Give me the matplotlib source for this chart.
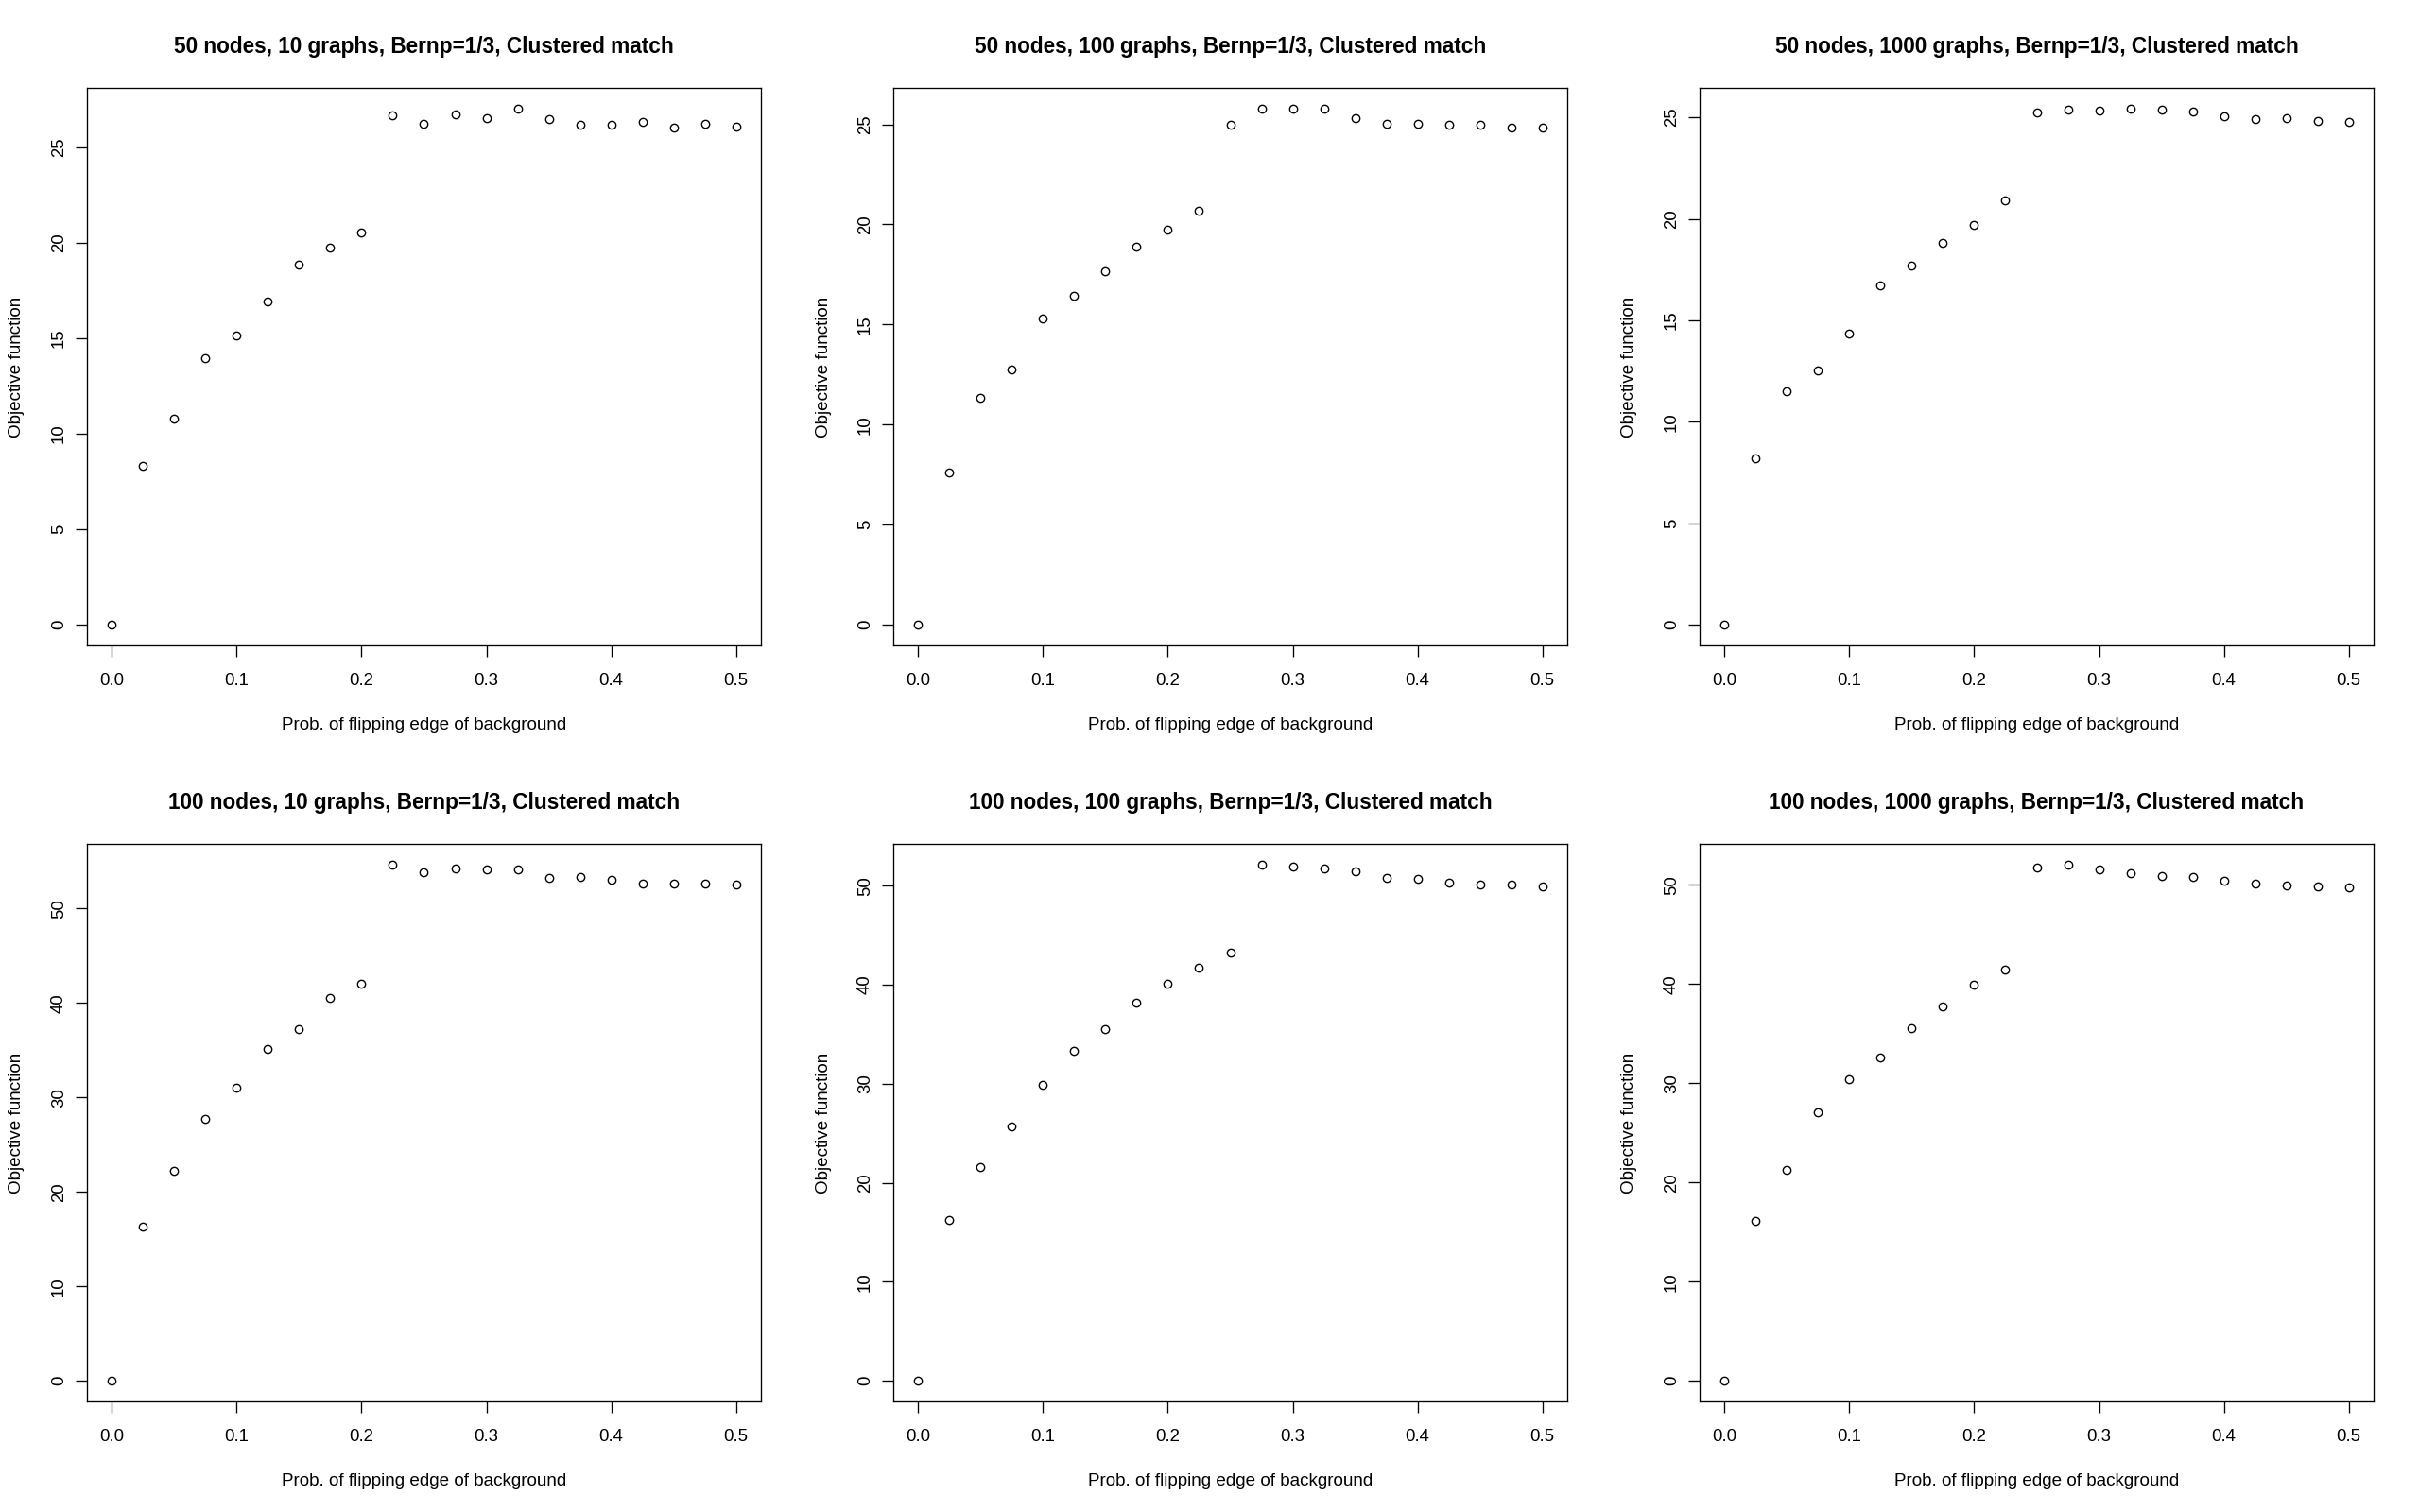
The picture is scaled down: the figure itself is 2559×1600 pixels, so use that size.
import matplotlib
matplotlib.use("Agg")
import matplotlib.pyplot as plt

plt.rcParams["font.family"] = ["Liberation Sans", "DejaVu Sans"]

# flip probabilities (x axis, shared by all panels)
flip_p = [0.0, 0.025, 0.05, 0.075, 0.1, 0.125, 0.15, 0.175, 0.2, 0.225, 0.25,
          0.275, 0.3, 0.325, 0.35, 0.375, 0.4, 0.425, 0.45, 0.475, 0.5]

# objective function values
obj_50_10 = [0.0, 8.33, 10.78, 13.97, 15.13, 16.94, 18.83, 19.74, 20.54, 26.64, 26.23,
             26.71, 26.49, 27.01, 26.46, 26.18, 26.18, 26.33, 26.00, 26.23, 26.06]
obj_50_100 = [0.0, 7.62, 11.35, 12.74, 15.31, 16.44, 17.64, 18.87, 19.74, 20.70, 24.98,
              25.77, 25.79, 25.77, 25.31, 25.05, 25.05, 25.00, 25.00, 24.83, 24.86]
obj_50_1000 = [0.0, 8.22, 11.52, 12.51, 14.34, 16.73, 17.68, 18.79, 19.69, 20.92, 25.24,
               25.36, 25.33, 25.43, 25.38, 25.28, 25.05, 24.91, 24.95, 24.81, 24.76]
obj_100_10 = [0.0, 16.34, 22.25, 27.70, 31.01, 35.08, 37.22, 40.48, 42.06, 54.63, 53.77,
              54.23, 54.13, 54.13, 53.26, 53.31, 53.05, 52.60, 52.60, 52.60, 52.55]
obj_100_100 = [0.0, 16.20, 21.60, 25.68, 29.86, 33.37, 35.55, 38.18, 40.08, 41.73, 43.29,
               52.14, 51.95, 51.70, 51.46, 50.78, 50.73, 50.34, 50.15, 50.10, 49.95]
obj_100_1000 = [0.0, 16.15, 21.29, 27.11, 30.36, 32.59, 35.50, 37.78, 39.91, 41.42, 51.75,
                52.04, 51.55, 51.21, 50.92, 50.82, 50.44, 50.15, 49.90, 49.85, 49.76]

titles = [
    "50 nodes, 10 graphs, Bernp=1/3, Clustered match",
    "50 nodes, 100 graphs, Bernp=1/3, Clustered match",
    "50 nodes, 1000 graphs, Bernp=1/3, Clustered match",
    "100 nodes, 10 graphs, Bernp=1/3, Clustered match",
    "100 nodes, 100 graphs, Bernp=1/3, Clustered match",
    "100 nodes, 1000 graphs, Bernp=1/3, Clustered match",
]
series = [obj_50_10, obj_50_100, obj_50_1000, obj_100_10, obj_100_100, obj_100_1000]
xticks = [0.0, 0.1, 0.2, 0.3, 0.4, 0.5]
yticks_top = [0, 5, 10, 15, 20, 25]
yticks_bottom = [0, 10, 20, 30, 40, 50]

W, H = 2559, 1600
fig = plt.figure(figsize=(W / 100, H / 100), dpi=100)

for i, (title, vals) in enumerate(zip(titles, series)):
    row, col = divmod(i, 3)
    x0 = col * 853 + 92
    y_bot = row * 800 + 683
    ax = fig.add_axes([x0 / W, 1 - y_bot / H, 713 / W, 590 / H])
    ax.plot(flip_p, vals, "o", ms=6, mfc="none", mec="black", mew=1.0)
    ax.margins(x=0.04, y=0.04)
    ax.set_xticks(xticks)
    ax.set_yticks(yticks_top if row == 0 else yticks_bottom)
    ax.tick_params(direction="out", length=8.8, width=0.95, labelsize=13.4, colors="black")
    ax.tick_params(axis="x", pad=12.0)
    ax.tick_params(axis="y", labelrotation=90, pad=6.3)
    for lab in ax.get_yticklabels():
        lab.set_va("center")
    for s in ax.spines.values():
        s.set_linewidth(0.95)
    ax.set_title(title, fontsize=16.3, fontweight="bold", pad=26.5)
    ax.set_xlabel("Prob. of flipping edge of background", fontsize=13.6)
    ax.set_ylabel("Objective function", fontsize=13.6)
    ax.xaxis.set_label_coords(0.5, (683 - 767) / 590)
    ax.xaxis.label.set_va("center")
    ax.yaxis.set_label_coords((18 - 92) / 713, 0.5)
    ax.yaxis.label.set_va("center")

fig.savefig("out.png", dpi=100, facecolor="white")
